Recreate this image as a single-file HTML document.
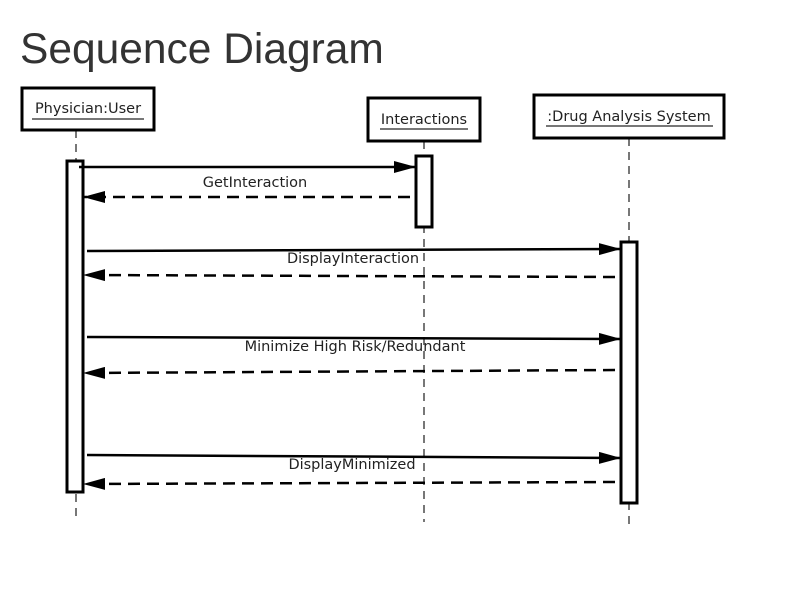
<!DOCTYPE html>
<html><head><style>
body{margin:0;background:#fff;width:800px;height:600px;overflow:hidden;font-family:"Liberation Sans",sans-serif}
</style></head><body>
<svg width="800" height="600" xmlns="http://www.w3.org/2000/svg" font-family="DejaVu Sans, Liberation Sans, sans-serif">
<text x="20" y="63" font-size="42.5" fill="#333" font-family="Liberation Sans, sans-serif">Sequence Diagram</text>
<defs><marker id="b" markerWidth="22" markerHeight="12" refX="22" refY="6" orient="auto" markerUnits="userSpaceOnUse"><path d="M0,0L22,6L0,12z"/></marker></defs>
<g stroke="#777" stroke-width="2" stroke-dasharray="8,6">
<line x1="76" y1="130" x2="76" y2="522"/>
<line x1="424" y1="141" x2="424" y2="522"/>
<line x1="629" y1="138" x2="629" y2="530"/>
</g>
<g fill="#fff" stroke="#000" stroke-width="3">
<rect x="22" y="88" width="132" height="42"/>
<rect x="368" y="98" width="112" height="43"/>
<rect x="534" y="95" width="190" height="43"/>
<rect x="67" y="161" width="16" height="331"/>
<rect x="416" y="156" width="16" height="71"/>
<rect x="621" y="242" width="16" height="261"/>
</g>
<g font-size="14.5" fill="#222" text-anchor="middle">
<text x="88" y="113">Physician:User</text>
<text x="424" y="124">Interactions</text>
<text x="629" y="121">:Drug Analysis System</text>
</g>
<g stroke="#777" stroke-width="2">
<line x1="32" y1="119" x2="144" y2="119"/>
<line x1="380" y1="129" x2="468" y2="129"/>
<line x1="546" y1="126" x2="713" y2="126"/>
</g>
<g stroke="#000" stroke-width="2.5" fill="none">
<line x1="79" y1="167" x2="416" y2="167" marker-end="url(#b)"/>
<line x1="410" y1="197" x2="83" y2="197" stroke-dasharray="12,7" marker-end="url(#b)"/>
<line x1="87" y1="251" x2="621" y2="249" marker-end="url(#b)"/>
<line x1="615" y1="277" x2="83" y2="275" stroke-dasharray="12,7" marker-end="url(#b)"/>
<line x1="87" y1="337" x2="621" y2="339" marker-end="url(#b)"/>
<line x1="615" y1="370" x2="83" y2="373" stroke-dasharray="12,7" marker-end="url(#b)"/>
<line x1="87" y1="455" x2="621" y2="458" marker-end="url(#b)"/>
<line x1="615" y1="482" x2="83" y2="484" stroke-dasharray="12,7" marker-end="url(#b)"/>
</g>
<g font-size="14.5" fill="#222" text-anchor="middle">
<text x="255" y="187">GetInteraction</text>
<text x="353" y="263">DisplayInteraction</text>
<text x="355" y="351">Minimize High Risk/Redundant</text>
<text x="352" y="469">DisplayMinimized</text>
</g>
</svg>
</body></html>
